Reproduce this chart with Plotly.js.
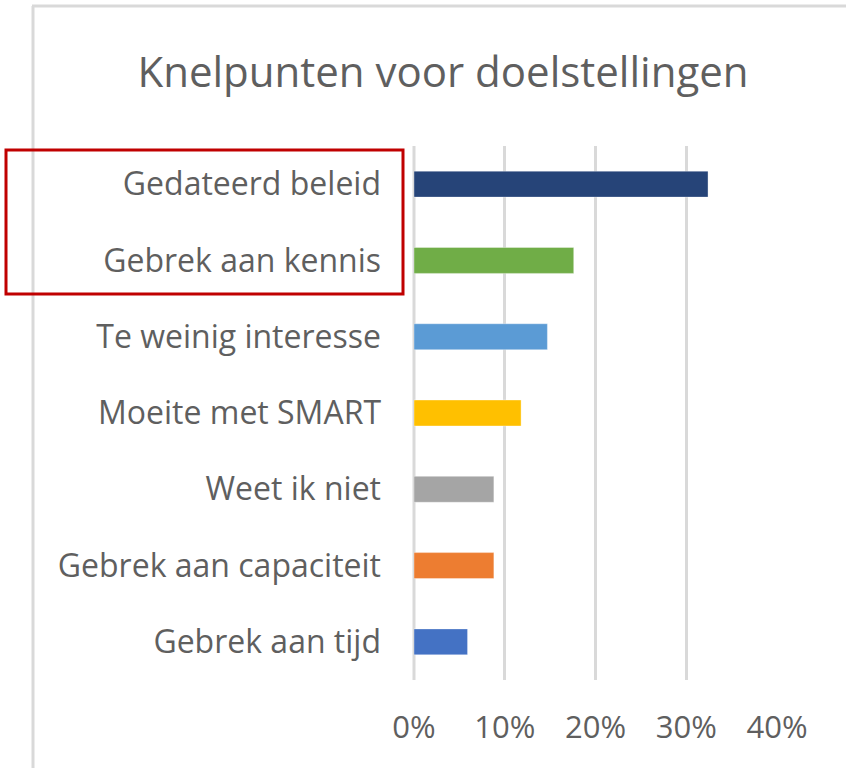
<!DOCTYPE html>
<html>
<head>
<meta charset="utf-8">
<script src="https://cdn.plot.ly/plotly-3.0.1.min.js"></script>
<style>html,body{margin:0;padding:0;background:#fff;}#chart{width:846px;height:768px;}</style>
</head>
<body>
<div id="chart"></div>
<script>
const categories = ["Gedateerd beleid","Gebrek aan kennis","Te weinig interesse","Moeite met SMART","Weet ik niet","Gebrek aan capaciteit","Gebrek aan tijd"];
const values = [0.324, 0.176, 0.147, 0.118, 0.088, 0.088, 0.059];
const colors = ["#264478","#70AD47","#5B9BD5","#FFC000","#A5A5A5","#ED7D31","#4472C4"];
const xTicks = [0, 0.1, 0.2, 0.3, 0.4];
const xTickLabels = ["0%","10%","20%","30%","40%"];
const titleText = "Knelpunten voor doelstellingen";

const W = 846, H = 768;
const m = {l: 414, r: 69, t: 146, b: 88};
const px = v => (v - m.l) / (W - m.l - m.r);
const py = v => (H - m.b - v) / (H - m.t - m.b);
const font = "Open Sans, sans-serif";
const grey = "#5f5f5f";

Plotly.newPlot("chart", [{
  type: "bar", orientation: "h",
  x: values, y: categories,
  marker: {color: colors, line: {width: 1, color: "rgba(255,255,255,0.35)"}},
  hoverinfo: "none"
}], {
  width: W, height: H,
  margin: m,
  paper_bgcolor: "#fff", plot_bgcolor: "#fff",
  bargap: 0.66,
  showlegend: false,
  title: {text: titleText, font: {family: font, size: 42, color: grey}, x: px(443), xref: "paper", xanchor: "center", y: 1 - 72 / H, yanchor: "middle"},
  xaxis: {range: [0, 0.4], tickvals: xTicks, ticktext: xTickLabels, showgrid: true, gridcolor: "#D9D9D9", gridwidth: 3, zeroline: false, showline: false, ticks: "", ticklabelstandoff: 26, tickfont: {family: font, size: 31, color: grey}, fixedrange: true},
  yaxis: {type: "category", autorange: "reversed", showgrid: false, zeroline: false, showline: false, ticks: "", ticklabelstandoff: 32, tickfont: {family: font, size: 32, color: grey}, fixedrange: true},
  shapes: [
    {type: "line", xref: "paper", yref: "paper", x0: px(33), x1: px(33), y0: py(6), y1: py(H + 5), line: {color: "#D9D9D9", width: 3}},
    {type: "line", xref: "paper", yref: "paper", x0: px(32), x1: px(W + 5), y0: py(6), y1: py(6), line: {color: "#D9D9D9", width: 3}},
    {type: "line", xref: "paper", yref: "paper", x0: px(414), x1: px(414), y0: py(146), y1: py(680), line: {color: "#D9D9D9", width: 3}, layer: "below"},
    {type: "rect", xref: "paper", yref: "paper", x0: px(6), x1: px(403), y0: py(150), y1: py(294), line: {color: "#C00000", width: 3}}
  ]
}, {staticPlot: true});
</script>
</body>
</html>
